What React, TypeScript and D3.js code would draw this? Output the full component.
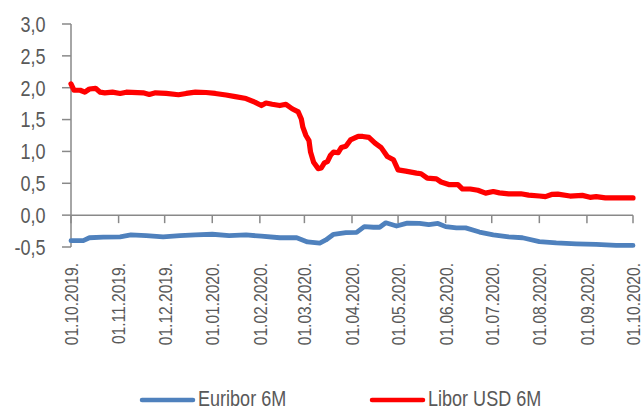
import React from "react";
import * as d3 from "d3";

const liborDates = [
  "2019-10-01","2019-10-03","2019-10-07","2019-10-10","2019-10-13","2019-10-17","2019-10-20","2019-10-23","2019-10-28",
  "2019-11-02","2019-11-06","2019-11-17","2019-11-21","2019-11-25","2019-12-02","2019-12-10","2019-12-15","2019-12-21",
  "2019-12-28","2020-01-03","2020-01-10","2020-01-16","2020-01-23","2020-01-29","2020-02-02","2020-02-05","2020-02-09",
  "2020-02-14","2020-02-18","2020-02-22","2020-02-26","2020-02-28","2020-02-29","2020-03-02","2020-03-04","2020-03-05",
  "2020-03-07","2020-03-10","2020-03-12","2020-03-14","2020-03-16","2020-03-18","2020-03-20","2020-03-23","2020-03-25",
  "2020-03-28","2020-03-31","2020-04-05","2020-04-08","2020-04-12","2020-04-16","2020-04-20","2020-04-24","2020-04-28",
  "2020-05-01","2020-05-06","2020-05-13","2020-05-16","2020-05-20","2020-05-26","2020-05-29","2020-06-03","2020-06-09",
  "2020-06-12","2020-06-17","2020-06-22","2020-06-27","2020-07-02","2020-07-06","2020-07-12","2020-07-20","2020-07-25",
  "2020-08-01","2020-08-05","2020-08-09","2020-08-13","2020-08-21","2020-08-29","2020-09-03","2020-09-07","2020-09-13",
  "2020-09-22","2020-10-01"
];
const liborValues = [
  2.06,1.96,1.96,1.93,1.98,1.99,1.93,1.92,1.93,
  1.91,1.93,1.92,1.895,1.92,1.91,1.89,1.91,1.93,
  1.925,1.91,1.885,1.86,1.83,1.77,1.72,1.76,1.74,
  1.72,1.74,1.67,1.62,1.51,1.38,1.25,1.17,0.99,
  0.83,0.73,0.74,0.82,0.84,0.94,0.99,0.98,1.06,
  1.08,1.18,1.235,1.235,1.22,1.13,1.06,0.92,0.87,
  0.71,0.69,0.66,0.65,0.58,0.57,0.52,0.48,0.48,
  0.41,0.41,0.39,0.345,0.37,0.35,0.335,0.335,0.315,
  0.30,0.29,0.325,0.33,0.30,0.31,0.28,0.29,0.27,
  0.27,0.27
];

const euriborDates = [
  "2019-10-01","2019-10-09","2019-10-13","2019-10-22","2019-11-02","2019-11-09","2019-11-19","2019-11-30","2019-12-11",
  "2019-12-21","2020-01-01","2020-01-12","2020-01-23","2020-02-02","2020-02-14","2020-02-25","2020-03-03","2020-03-11",
  "2020-03-15","2020-03-20","2020-03-28","2020-04-04","2020-04-09","2020-04-15","2020-04-19","2020-04-23","2020-04-30",
  "2020-05-07","2020-05-15","2020-05-21","2020-05-27","2020-06-01","2020-06-08","2020-06-14","2020-06-23","2020-07-02",
  "2020-07-12","2020-07-21","2020-08-01","2020-08-12","2020-08-25","2020-09-07","2020-09-20","2020-10-01"
];
const euriborValues = [
  -0.40,-0.40,-0.355,-0.345,-0.34,-0.31,-0.32,-0.34,-0.32,
  -0.31,-0.30,-0.32,-0.31,-0.33,-0.355,-0.355,-0.42,-0.44,
  -0.39,-0.30,-0.275,-0.27,-0.18,-0.19,-0.19,-0.12,-0.17,
  -0.125,-0.13,-0.15,-0.13,-0.18,-0.20,-0.20,-0.265,-0.31,
  -0.34,-0.355,-0.415,-0.435,-0.45,-0.46,-0.475,-0.475
];

const xTickLabels = [
  "01.10.2019.","01.11.2019.","01.12.2019.","01.01.2020.","01.02.2020.","01.03.2020.","01.04.2020.",
  "01.05.2020.","01.06.2020.","01.07.2020.","01.08.2020.","01.09.2020.","01.10.2020."
];
const yTicks = [-0.5, 0, 0.5, 1.0, 1.5, 2.0, 2.5, 3.0];

const seriesNames = ["Euribor 6M", "Libor USD 6M"];
const seriesColors = ["#4F81BD", "#FF0000"];

const FONT = "'Liberation Sans', Arial, sans-serif";
const TEXT = "#595959";
const AXIS = "#898989";
const NARROW = 0.82;

function Txt({ x, y, rotate = 0, size, anchor = "start", dy, children }: any) {
  return (
    <text
      transform={`translate(${x},${y}) rotate(${rotate}) scale(${NARROW},1)`}
      textAnchor={anchor}
      dy={dy}
      fontSize={size}
      fill={TEXT}
      fontFamily={FONT}
    >
      {children}
    </text>
  );
}

export default function App() {
  const W = 642, H = 411;
  const parseDate = d3.utcParse("%Y-%m-%d");
  const parseTick = d3.utcParse("%d.%m.%Y.");
  const x = d3.scaleUtc()
    .domain([parseDate("2019-10-01")!, parseDate("2020-10-01")!])
    .range([71, 633]);
  const y = d3.scaleLinear().domain([-0.5, 3]).range([247, 24]);
  const fmt = (v: number) => d3.format(".1f")(v).replace(".", ",").replace("−", "-");

  const line = d3.line<[Date, number]>()
    .x(d => x(d[0]))
    .y(d => y(d[1]))
    .curve(d3.curveLinear);

  const libor: [Date, number][] = liborDates.map((d, i) => [parseDate(d)!, liborValues[i]]);
  const euribor: [Date, number][] = euriborDates.map((d, i) => [parseDate(d)!, euriborValues[i]]);

  const y0 = y(0);

  return (
    <svg width={W} height={H} style={{ position: "absolute", left: 0, top: 0, display: "block", background: "#fff" }}>
      {/* y axis */}
      <line x1={71} x2={71} y1={y(3)} y2={y(-0.5)} stroke={AXIS} strokeWidth={1.5} />
      {yTicks.map(t => (
        <g key={t}>
          <line x1={62} x2={71} y1={y(t)} y2={y(t)} stroke={AXIS} strokeWidth={1.5} />
          <Txt x={45.5} y={y(t)} dy="0.36em" anchor="end" size={22}>{fmt(t)}</Txt>
        </g>
      ))}
      {/* x axis at zero */}
      <line x1={71} x2={633} y1={y0} y2={y0} stroke={AXIS} strokeWidth={1.5} />
      {xTickLabels.map(l => {
        const xx = x(parseTick(l)!);
        return (
          <g key={l}>
            <line x1={xx} x2={xx} y1={y0} y2={y0 + 8} stroke={AXIS} strokeWidth={1.5} />
            <Txt x={xx} y={263} rotate={-90} dy="0.36em" anchor="end" size={19}>{l}</Txt>
          </g>
        );
      })}
      {/* series */}
      <path d={line(euribor) || ""} fill="none" stroke={seriesColors[0]} strokeWidth={4.8} strokeLinejoin="round" strokeLinecap="round" />
      <path d={line(libor) || ""} fill="none" stroke={seriesColors[1]} strokeWidth={5.2} strokeLinejoin="round" strokeLinecap="round" />
      {/* legend */}
      {seriesNames.map((n, i) => {
        const lx = i === 0 ? 140 : 370;
        return (
          <g key={n}>
            <line x1={lx + 2} x2={lx + 53} y1={400} y2={400} stroke={seriesColors[i]} strokeWidth={4.5} strokeLinecap="round" />
            <Txt x={lx + 58} y={406} size={22}>{n}</Txt>
          </g>
        );
      })}
    </svg>
  );
}
